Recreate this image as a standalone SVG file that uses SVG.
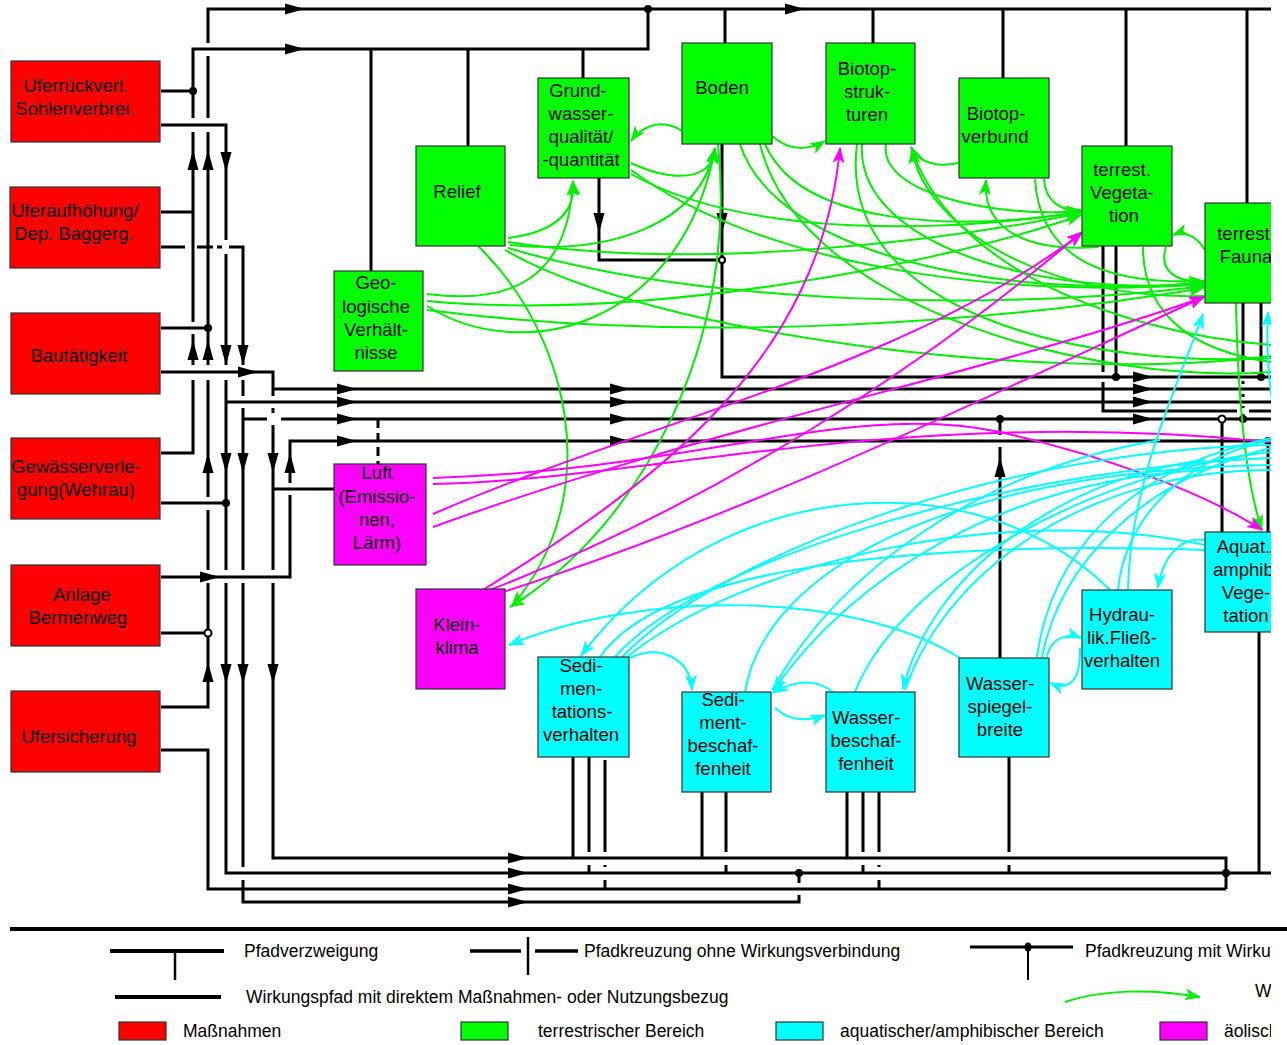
<svg xmlns="http://www.w3.org/2000/svg" width="1287" height="1045" viewBox="0 0 1287 1045">
<style>
.b{fill:none;stroke:#000;stroke-width:3}
.bx{stroke:#333;stroke-width:1.2}
.r{fill:#ff0000}.gr{fill:#00ff00}.cy{fill:#00ffff}.mg{fill:#ff00ff}
text{font-family:"Liberation Sans",Arial,sans-serif;font-size:18.5px;fill:#000}
.t{text-anchor:middle}
.lg{font-size:17.5px}
.g{fill:none;stroke:#00f000;stroke-width:2}
.c{fill:none;stroke:#00ffff;stroke-width:2}
.m{fill:none;stroke:#ff00ff;stroke-width:2}
.ga{marker-end:url(#amg)}
.ca{marker-end:url(#amc)}
.ma{marker-end:url(#amm)}
.dot{fill:#000}
.od{fill:#fff;stroke:#000;stroke-width:2}
</style>
<defs>
<clipPath id="clip"><rect x="0" y="0" width="1271" height="1045"/></clipPath>
<path id="ar" d="M0,0 L-20,-5.5 L-20,5.5 Z" fill="#000"/>
<marker id="amg" markerUnits="userSpaceOnUse" markerWidth="16" markerHeight="12" viewBox="0 0 16 12" refX="15" refY="6" orient="auto"><path d="M0,0 L16,6 L0,12 L4,6 Z" fill="#00f000"/></marker>
<marker id="amc" markerUnits="userSpaceOnUse" markerWidth="16" markerHeight="12" viewBox="0 0 16 12" refX="15" refY="6" orient="auto"><path d="M0,0 L16,6 L0,12 L4,6 Z" fill="#00ffff"/></marker>
<marker id="amm" markerUnits="userSpaceOnUse" markerWidth="16" markerHeight="12" viewBox="0 0 16 12" refX="15" refY="6" orient="auto"><path d="M0,0 L16,6 L0,12 L4,6 Z" fill="#ff00ff"/></marker>
</defs>
<rect width="1287" height="1045" fill="#fff"/>
<g clip-path="url(#clip)">
<g id="connectors">
<g id="black-paths">
<path class="b" d="M161,707 H208 V583 M208,570 V510 M208,497 V380 M208,365 V132 M208,118 V56 M208,43 V9 H1271"/>
<path class="b" d="M161,453 H193 V380 M193,365 V334 M193,322 V132 M193,118 V49 H648 V9"/>
<path class="b" d="M161,91 H193 M161,212 H193 M161,328 H208 M161,503 H226 M161,633 H208"/>
<path class="b" d="M161,125 H226 V240 M226,254 V365 M226,380 V570 M226,583 V873 H1271"/>
<path class="b" d="M226,402 H1271"/>
<path class="b" d="M161,247 H185 M197,247 H213 M217,247 H222 M229,247 H243 V365 M243,380 V396 M243,408 V570 M243,583 V867 M243,880 V902 H799 V895 M799,883 V873"/>
<path class="b" d="M243,419 H267 M281,419 H1271"/>
<path class="b" d="M161,372 H273 V396 M273,408 V413 M273,425 V570 M273,583 V858 H1226 V889"/>
<path class="b" d="M273,389 H1271 M273,489 H334"/>
<path class="b" d="M161,577 H290 V495 M290,483 V441 H1271"/>
<path class="b" d="M161,750 H208 V889 H1226"/>
<path class="b" d="M378,419 V464" stroke-dasharray="9,5"/>
<path class="b" d="M371,49 V271 M468,49 V146 M583,49 V78 M725,9 V43 M873,9 V43 M1003,9 V78 M1126,9 V146 M1247,9 V203"/>
<path class="b" d="M599,178 V260 H722 M722,144 V377 H1271"/>
<path class="b" d="M1103,246 V372 M1103,382 V411 H1237 M1249,411 H1271 M1116,246 V377"/>
<path class="b" d="M1243,303 V372 M1243,381 V384 M1243,394 V397 M1243,406 V408 M1243,414 V419 M1261,303 V377"/>
<path class="b" d="M1222,419 V532 M1268,441 V532 M1259,632 V873"/>
<path class="b" d="M1000,419 V435 M1000,447 V658 M1009,757 V852 M1009,865 V873"/>
<path class="b" d="M573,757 V858 M589,757 V852 M589,865 V873 M605,760 V852 M605,865 V867 M605,880 V889"/>
<path class="b" d="M702,792 V858 M726,792 V852 M726,865 V873"/>
<path class="b" d="M847,792 V858 M863,792 V852 M863,865 V873 M879,792 V852 M879,865 V867 M879,880 V889"/>
</g>
<g id="black-arrows">
<use href="#ar" transform="translate(305,9)"/>
<use href="#ar" transform="translate(805,9)"/>
<use href="#ar" transform="translate(305,49)"/>
<use href="#ar" transform="translate(258,372)"/>
<use href="#ar" transform="translate(357,389)"/>
<use href="#ar" transform="translate(357,402)"/>
<use href="#ar" transform="translate(357,419)"/>
<use href="#ar" transform="translate(357,441)"/>
<use href="#ar" transform="translate(630,389)"/>
<use href="#ar" transform="translate(630,402)"/>
<use href="#ar" transform="translate(630,419)"/>
<use href="#ar" transform="translate(630,441)"/>
<use href="#ar" transform="translate(1153,377)"/>
<use href="#ar" transform="translate(1153,389)"/>
<use href="#ar" transform="translate(1153,402)"/>
<use href="#ar" transform="translate(1153,419)"/>
<use href="#ar" transform="translate(220,577)"/>
<use href="#ar" transform="translate(528,858)"/>
<use href="#ar" transform="translate(528,873)"/>
<use href="#ar" transform="translate(528,889)"/>
<use href="#ar" transform="translate(528,902)"/>
<use href="#ar" transform="translate(193,150) rotate(-90)"/>
<use href="#ar" transform="translate(208,150) rotate(-90)"/>
<use href="#ar" transform="translate(193,340) rotate(-90)"/>
<use href="#ar" transform="translate(208,340) rotate(-90)"/>
<use href="#ar" transform="translate(208,453) rotate(-90)"/>
<use href="#ar" transform="translate(290,453) rotate(-90)"/>
<use href="#ar" transform="translate(208,662) rotate(-90)"/>
<use href="#ar" transform="translate(1000,457) rotate(-90)"/>
<use href="#ar" transform="translate(226,172) rotate(90)"/>
<use href="#ar" transform="translate(226,365) rotate(90)"/>
<use href="#ar" transform="translate(243,365) rotate(90)"/>
<use href="#ar" transform="translate(226,473) rotate(90)"/>
<use href="#ar" transform="translate(243,473) rotate(90)"/>
<use href="#ar" transform="translate(273,473) rotate(90)"/>
<use href="#ar" transform="translate(226,684) rotate(90)"/>
<use href="#ar" transform="translate(243,684) rotate(90)"/>
<use href="#ar" transform="translate(273,684) rotate(90)"/>
<use href="#ar" transform="translate(599,233) rotate(90)"/>
<use href="#ar" transform="translate(722,233) rotate(90)"/>
</g>
<g id="dots">
<circle class="dot" cx="193" cy="91" r="4"/>
<circle class="dot" cx="648" cy="9" r="4"/>
<circle class="dot" cx="208" cy="328" r="4"/>
<circle class="dot" cx="226" cy="503" r="4"/>
<circle class="dot" cx="1116" cy="377" r="4"/>
<circle class="dot" cx="1261" cy="377" r="4"/>
<circle class="dot" cx="1000" cy="419" r="4"/>
<circle class="dot" cx="1243" cy="419" r="4"/>
<circle class="dot" cx="1268" cy="441" r="4"/>
<circle class="dot" cx="799" cy="873" r="4"/>
<circle class="dot" cx="1226" cy="873" r="4"/>
<circle class="od" cx="722" cy="260" r="3"/>
<circle class="od" cx="208" cy="633" r="3.5"/>
<circle class="od" cx="1222" cy="419" r="3.5"/>
</g>
<g id="green-curves">
<path class="g ga" d="M682,131 C666,120 645,122 631,141"/>
<path class="g ga" d="M508,238 C555,232 576,212 573,181"/>
<path class="g ga" d="M427,294 C510,305 568,280 573,181"/>
<path class="g ga" d="M631,163 C672,182 712,182 715,148"/>
<path class="g ga" d="M510,245 C610,255 700,225 715,148"/>
<path class="g ga" d="M427,306 C520,365 680,330 715,149"/>
<path class="g ga" d="M718,144 C738,330 650,520 510,607"/>
<path class="g ga" d="M478,246 C565,330 610,490 512,606"/>
<path class="g ga" d="M772,136 C790,152 810,150 825,141"/>
<path class="g ga" d="M958,163 C936,168 918,162 911,147"/>
<path class="g ga" d="M1098,247 C1030,252 982,232 986,180"/>
<path class="g ga" d="M1044,179 C1045,200 1060,212 1081,210"/>
<path class="g ga" d="M1035,179 C1040,262 1110,285 1204,281"/>
<path class="g ga" d="M1205,250 C1198,238 1186,230 1173,235"/>
<path class="g ga" d="M1166,247 C1158,272 1178,283 1204,281"/>
<path class="g" d="M1143,247 C1143,320 1200,352 1271,362"/>
<path class="g ga" d="M886,144 C878,195 1000,218 1081,211"/>
<path class="g ga" d="M862,144 C855,250 1060,300 1204,282"/>
<path class="g" d="M857,144 C835,320 1100,368 1271,358"/>
<path class="g ga" d="M1204,296 C1050,300 925,230 912,149"/>
<path class="g" d="M912,150 C950,260 1100,330 1271,345"/>
<path class="g ga" d="M740,144 C775,255 1000,300 1204,283"/>
<path class="g" d="M760,144 C800,310 1100,385 1271,372"/>
<path class="g ga" d="M631,174 C750,240 950,232 1081,212"/>
<path class="g ga" d="M631,170 C760,265 1000,300 1204,284"/>
<path class="g ga" d="M508,242 C700,272 950,240 1081,213"/>
<path class="g ga" d="M508,248 C700,305 1000,312 1204,286"/>
<path class="g ga" d="M427,301 C650,322 950,262 1081,215"/>
<path class="g ga" d="M427,310 C700,345 1000,322 1204,288"/>
<path class="g" d="M505,250 C650,335 1050,385 1271,356"/>
<path class="g ga" d="M1236,303 C1238,400 1245,480 1262,530"/>
<path class="g ga" d="M765,144 C800,225 950,232 1081,212"/>
</g>
<g id="magenta-curves">
<path class="m ma" d="M483,590 C660,480 820,360 840,148"/>
<path class="m ma" d="M490,590 C720,500 920,370 1082,232"/>
<path class="m ma" d="M500,593 C760,510 1000,390 1204,297"/>
<path class="m ma" d="M433,514 C650,420 900,370 1082,233"/>
<path class="m ma" d="M433,527 C700,430 1000,370 1204,297"/>
<path class="m ma" d="M433,478 C700,470 850,400 1000,432 C1100,455 1200,490 1262,530"/>
<path class="m" d="M433,484 C650,480 900,405 1271,442"/>
</g>
<g id="cyan-curves">
<path class="c ca" d="M960,658 C850,590 640,590 509,645"/>
<path class="c ca" d="M630,658 C660,644 690,658 692,690"/>
<path class="c ca" d="M775,708 C790,722 810,721 825,715"/>
<path class="c ca" d="M833,692 C815,678 795,680 773,693"/>
<path class="c ca" d="M1047,657 C1050,640 1065,632 1081,638"/>
<path class="c ca" d="M1080,648 C1081,685 1066,690 1050,683"/>
<path class="c ca" d="M1205,540 C1180,536 1162,558 1158,588"/>
<path class="c ca" d="M1110,590 C980,460 720,470 581,656"/>
<path class="c" d="M615,657 C700,560 1000,470 1271,458"/>
<path class="c" d="M622,657 C720,555 1000,450 1271,445"/>
<path class="c" d="M627,657 C740,565 1000,500 1205,545"/>
<path class="c" d="M745,692 C765,570 950,470 1271,465"/>
<path class="c ca" d="M1205,470 C1000,480 850,580 773,691"/>
<path class="c" d="M1160,440 C980,470 840,570 772,690"/>
<path class="c" d="M855,692 C900,575 1100,470 1271,452"/>
<path class="c ca" d="M1205,460 C1050,480 930,580 903,689"/>
<path class="c" d="M1271,470 C1100,470 950,560 905,690"/>
<path class="c" d="M1037,657 C1050,560 1120,470 1271,438"/>
<path class="c" d="M1042,657 C1060,565 1140,480 1271,448"/>
<path class="c" d="M1118,590 C1125,520 1180,460 1271,440"/>
<path class="c ca" d="M1128,590 C1130,480 1180,380 1203,314"/>
<path class="c ca" d="M1275,420 C1268,380 1266,345 1268,312"/>
<path class="c" d="M600,657 C660,570 900,540 1205,550"/>
</g>
</g>
<g id="n-uferrueck"><rect class="bx r" x="11" y="61" width="149" height="81"/><text class="t" x="76" y="92">Uferrückverl.</text><text class="t" x="75" y="115">Sohlenverbrei.</text></g>
<g id="n-uferauf"><rect class="bx r" x="10" y="187" width="150" height="81"/><text class="t" x="75" y="217">Uferaufhöhung/</text><text class="t" x="74" y="240">Dep. Baggerg.</text></g>
<g id="n-bau"><rect class="bx r" x="11" y="313" width="149" height="81"/><text class="t" x="79" y="362">Bautätigkeit</text></g>
<g id="n-gewaesser"><rect class="bx r" x="11" y="438" width="149" height="81"/><text class="t" x="76" y="473">Gewässerverle-</text><text class="t" x="76" y="496">gung(Wehrau)</text></g>
<g id="n-anlage"><rect class="bx r" x="11" y="565" width="149" height="81"/><text class="t" x="82" y="601">Anlage</text><text class="t" x="78" y="624">Bermenweg</text></g>
<g id="n-ufersich"><rect class="bx r" x="11" y="691" width="149" height="81"/><text class="t" x="79" y="743">Ufersicherung</text></g>
<g id="n-geo"><rect class="bx gr" x="334" y="271" width="89" height="100"/><text class="t" x="376" y="289">Geo-</text><text class="t" x="376" y="313">logische</text><text class="t" x="376" y="336">Verhält-</text><text class="t" x="376" y="359">nisse</text></g>
<g id="n-relief"><rect class="bx gr" x="416" y="146" width="89" height="100"/><text class="t" x="457" y="198">Relief</text></g>
<g id="n-grundwasser"><rect class="bx gr" x="538" y="78" width="91" height="100"/><text class="t" x="578" y="97">Grund-</text><text class="t" x="581" y="120">wasser-</text><text class="t" x="581" y="143">qualität/</text><text class="t" x="581" y="166">-quantität</text></g>
<g id="n-boden"><rect class="bx gr" x="682" y="43" width="90" height="101"/><text class="t" x="722" y="94">Boden</text></g>
<g id="n-biotopstrukturen"><rect class="bx gr" x="826" y="43" width="89" height="101"/><text class="t" x="867" y="75">Biotop-</text><text class="t" x="867" y="98">struk-</text><text class="t" x="867" y="121">turen</text></g>
<g id="n-biotopverbund"><rect class="bx gr" x="959" y="78" width="90" height="100"/><text class="t" x="996" y="120">Biotop-</text><text class="t" x="995" y="143">verbund</text></g>
<g id="n-vegetation"><rect class="bx gr" x="1082" y="146" width="90" height="100"/><text class="t" x="1122" y="176">terrest.</text><text class="t" x="1122" y="199">Vegeta-</text><text class="t" x="1124" y="222">tion</text></g>
<g id="n-fauna"><rect class="bx gr" x="1205" y="203" width="90" height="100"/><text class="t" x="1246" y="240">terrest.</text><text class="t" x="1246" y="263">Fauna</text></g>
<g id="n-sedimentation"><rect class="bx cy" x="538" y="657" width="91" height="100"/><text class="t" x="581" y="672">Sedi-</text><text class="t" x="581" y="695">men-</text><text class="t" x="582" y="718">tations-</text><text class="t" x="581" y="741">verhalten</text></g>
<g id="n-sedimentbeschaffenheit"><rect class="bx cy" x="682" y="692" width="89" height="100"/><text class="t" x="723" y="706">Sedi-</text><text class="t" x="723" y="729">ment-</text><text class="t" x="723" y="752">beschaf-</text><text class="t" x="723" y="775">fenheit</text></g>
<g id="n-wasserbeschaffenheit"><rect class="bx cy" x="826" y="692" width="89" height="100"/><text class="t" x="866" y="724">Wasser-</text><text class="t" x="866" y="747">beschaf-</text><text class="t" x="866" y="770">fenheit</text></g>
<g id="n-wasserspiegel"><rect class="bx cy" x="959" y="658" width="90" height="99"/><text class="t" x="1000" y="690">Wasser-</text><text class="t" x="1000" y="713">spiegel-</text><text class="t" x="1000" y="736">breite</text></g>
<g id="n-hydraulik"><rect class="bx cy" x="1082" y="590" width="90" height="99"/><text class="t" x="1122" y="621">Hydrau-</text><text class="t" x="1122" y="644">lik.Fließ-</text><text class="t" x="1122" y="667">verhalten</text></g>
<g id="n-aquat"><rect class="bx cy" x="1205" y="532" width="90" height="100"/><text class="t" x="1246" y="553">Aquat./</text><text class="t" x="1246" y="576">amphib.</text><text class="t" x="1246" y="599">Vege-</text><text class="t" x="1246" y="622">tation</text></g>
<g id="n-luft"><rect class="bx mg" x="334" y="464" width="92" height="101"/><text class="t" x="377" y="479">Luft</text><text class="t" x="377" y="503">(Emissio-</text><text class="t" x="377" y="526">nen,</text><text class="t" x="377" y="549">Lärm)</text></g>
<g id="n-kleinklima"><rect class="bx mg" x="416" y="589" width="89" height="100"/><text class="t" x="457" y="631">Klein-</text><text class="t" x="457" y="654">klima</text></g>
<g id="legend">
<path d="M110,951 H224" stroke="#000" stroke-width="4"/>
<path d="M175,951 V980" stroke="#000" stroke-width="2.5"/>
<text class="lg" x="244" y="957">Pfadverzweigung</text>
<path d="M470,951 H521 M535,951 H578" stroke="#000" stroke-width="3.5"/>
<path d="M528,937 V975" stroke="#000" stroke-width="2.5"/>
<text class="lg" x="584" y="957">Pfadkreuzung ohne Wirkungsverbindung</text>
<path d="M970,947 H1073" stroke="#000" stroke-width="3"/>
<path d="M1028,947 V980" stroke="#000" stroke-width="2"/>
<ellipse cx="1028" cy="947" rx="3.5" ry="4.5" fill="#000"/>
<text class="lg" x="1085" y="957">Pfadkreuzung mit Wirku</text>
<path d="M115,997 H221" stroke="#000" stroke-width="4"/>
<text class="lg" x="246" y="1003">Wirkungspfad mit direktem Maßnahmen- oder Nutzungsbezug</text>
<path class="g ga" d="M1065,1002 C1100,990 1150,988 1200,997"/>
<text class="lg" x="1255" y="997">W</text>
<rect class="bx r" x="119" y="1022" width="47" height="18"/>
<text class="lg" x="183" y="1037">Maßnahmen</text>
<rect class="bx gr" x="461" y="1022" width="47" height="18"/>
<text class="lg" x="538" y="1037">terrestrischer Bereich</text>
<rect class="bx cy" x="776" y="1022" width="47" height="18"/>
<text class="lg" x="840" y="1037">aquatischer/amphibischer Bereich</text>
<rect class="bx mg" x="1160" y="1022" width="47" height="18"/>
<text class="lg" x="1224" y="1037">äolisch</text>
</g>
</g>
<path d="M10,929 H1287" stroke="#000" stroke-width="4"/>
</svg>
